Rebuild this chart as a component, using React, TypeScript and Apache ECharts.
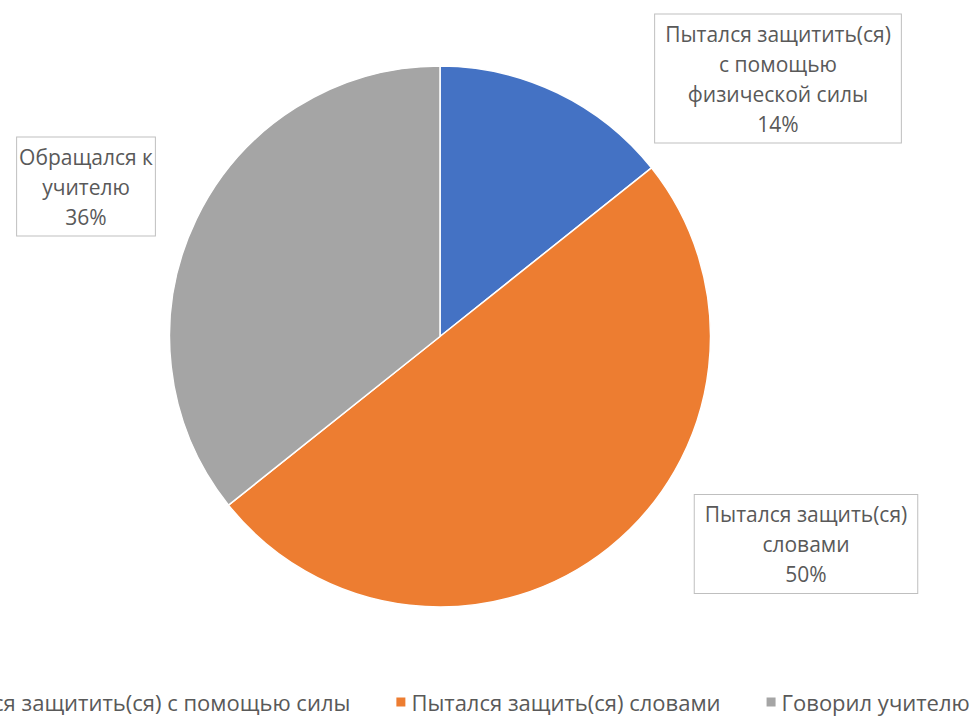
import React, { useEffect, useRef } from "react";
import * as echarts from "echarts";

const legendNames = [
  "Пытался защитить(ся) с помощью силы",
  "Пытался защить(ся) словами",
  "Говорил учителю",
];
const labelTexts = [
  "Пытался защитить(ся)\nс помощью\nфизической силы",
  "Пытался защить(ся)\nсловами",
  "Обращался к\nучителю",
];
const values = [2, 7, 5];
const colors = ["#4472C4", "#ED7D31", "#A5A5A5"];
const labelCenters = [
  [778, 78.5],
  [806, 544],
  [86, 186.5],
];

export default function App() {
  const ref = useRef<HTMLDivElement>(null);
  useEffect(() => {
    if (!ref.current) return;
    const chart = echarts.init(ref.current, null, { renderer: "svg" });
    const font = "'Open Sans', 'Noto Sans', sans-serif";
    chart.setOption({
      animation: false,
      backgroundColor: "#ffffff",
      color: colors,
      legend: {
        top: 691,
        left: -92,
        padding: 0,
        icon: "rect",
        itemWidth: 11,
        itemHeight: 11,
        itemGap: 44,
        textStyle: { color: "#595959", fontSize: 22, lineHeight: 22, fontFamily: font },
        data: legendNames,
      },
      series: [
        {
          type: "pie",
          center: [440, 336.5],
          radius: 270.5,
          startAngle: 90,
          clockwise: true,
          percentPrecision: 0,
          itemStyle: { borderColor: "#ffffff", borderWidth: 1.5 },
          labelLine: { show: false },
          label: {
            show: true,
            position: "outside",
            overflow: "none",
            formatter: (p: any) => labelTexts[p.dataIndex] + "\n" + p.percent + "%",
            color: "#595959",
            fontSize: 21,
            lineHeight: 30,
            fontFamily: font,
            align: "center",
            backgroundColor: "#ffffff",
            borderColor: "#BFBFBF",
            borderWidth: 1,
            padding: [4, 10, 4, 10],
          },
          labelLayout: (params: any) => {
            const c = labelCenters[params.dataIndex];
            return { x: c[0], y: c[1], align: "center", verticalAlign: "middle" };
          },
          data: values.map((v, i) => ({ name: legendNames[i], value: v })),
        },
      ],
    });
    return () => chart.dispose();
  }, []);
  return (
    <div
      ref={ref}
      style={{ position: "fixed", left: 0, top: 0, width: 970, height: 717 }}
    />
  );
}
